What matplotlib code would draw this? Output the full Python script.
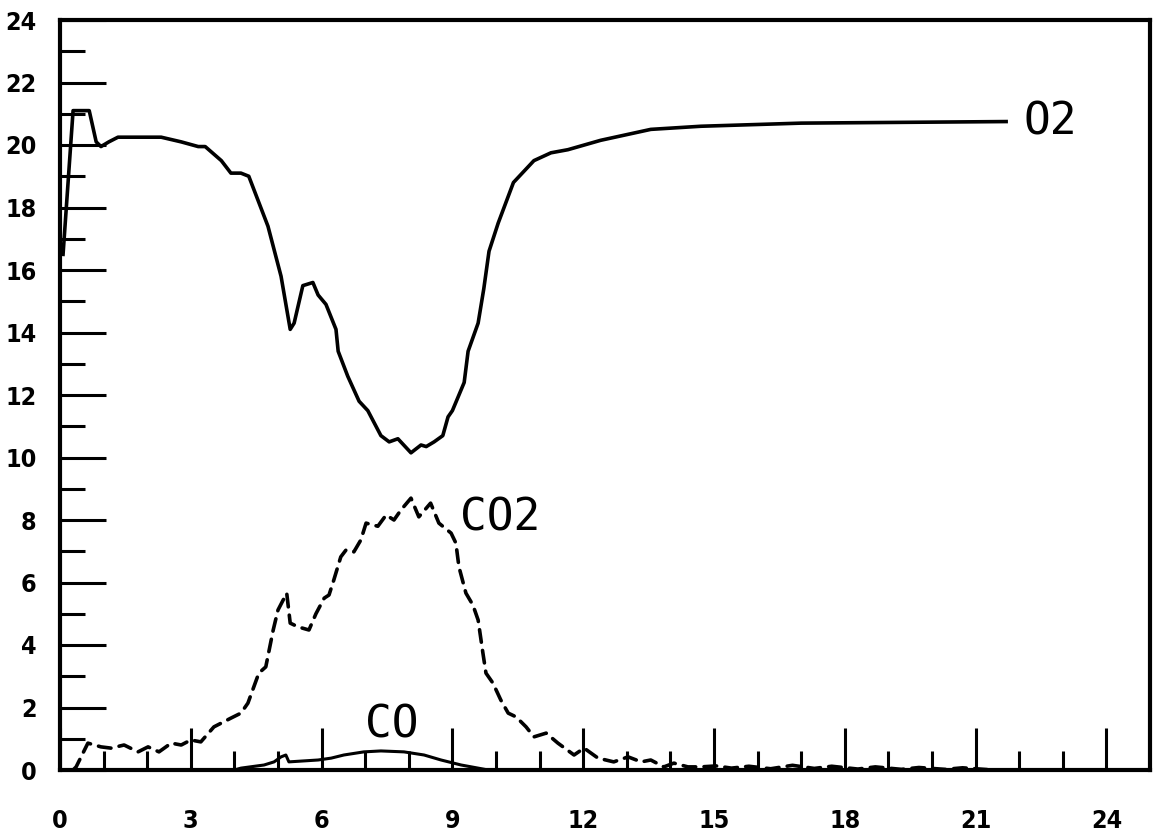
import matplotlib
matplotlib.use('Agg')
import matplotlib.pyplot as plt

# gas concentrations (%) against time
o2_t = [0.07, 0.3, 0.67, 0.83, 0.94, 1.12, 1.33, 2.32, 2.78, 3.17, 3.33, 3.7, 3.92,
        4.15, 4.33, 4.77, 5.07, 5.28, 5.37, 5.57, 5.8, 5.92, 6.1, 6.33, 6.38, 6.6,
        6.86, 7.06, 7.36, 7.55, 7.75, 8.05, 8.28, 8.4, 8.58, 8.78, 8.9, 9.0, 9.27,
        9.36, 9.59, 9.72, 9.84, 10.05, 10.4, 10.87, 11.26, 11.65, 12.4, 13.55,
        14.7, 17.0, 21.7]
o2 = [16.5, 21.1, 21.1, 20.1, 19.95, 20.1, 20.25, 20.25, 20.1, 19.95, 19.95, 19.5,
      19.1, 19.1, 19.0, 17.4, 15.8, 14.1, 14.3, 15.5, 15.6, 15.2, 14.9, 14.1, 13.4,
      12.6, 11.8, 11.5, 10.7, 10.5, 10.6, 10.15, 10.4, 10.35, 10.5, 10.7, 11.3,
      11.5, 12.4, 13.4, 14.3, 15.4, 16.6, 17.5, 18.8, 19.5, 19.75, 19.85, 20.15,
      20.5, 20.6, 20.7, 20.75]

co2_t = [0.3, 0.37, 0.64, 0.94, 1.17, 1.47, 1.79, 2.02, 2.27, 2.55, 2.78, 3.0, 3.23,
         3.53, 3.92, 4.15, 4.31, 4.56, 4.72, 4.89, 5.0, 5.2, 5.28, 5.46, 5.71, 5.87,
         6.06, 6.17, 6.28, 6.44, 6.56, 6.74, 6.9, 7.02, 7.29, 7.48, 7.66, 7.82, 8.05,
         8.23, 8.5, 8.69, 8.97, 9.08, 9.15, 9.31, 9.47, 9.59, 9.7, 9.77, 9.93, 10.11,
         10.28, 10.46, 10.69, 10.87, 11.15, 11.42, 11.79, 12.02, 12.34, 12.7, 13.03,
         13.33, 13.55, 13.85, 14.08, 14.4, 14.7, 15.05, 15.4, 15.8, 16.3, 16.8, 17.3,
         17.7, 18.3, 18.7, 19.3, 19.7, 20.3, 20.7, 21.4]
co2 = [0.0, 0.1, 0.86, 0.74, 0.7, 0.8, 0.58, 0.74, 0.58, 0.86, 0.8, 0.96, 0.9, 1.38,
       1.66, 1.82, 2.14, 3.1, 3.3, 4.48, 5.12, 5.66, 4.7, 4.58, 4.48, 5.0, 5.5, 5.6,
       6.08, 6.82, 7.04, 6.98, 7.36, 7.9, 7.8, 8.16, 8.0, 8.32, 8.7, 8.1, 8.54, 7.9,
       7.58, 7.26, 6.5, 5.66, 5.28, 4.8, 3.74, 3.1, 2.78, 2.24, 1.82, 1.7, 1.38, 1.06,
       1.18, 0.86, 0.48, 0.7, 0.38, 0.26, 0.42, 0.26, 0.32, 0.1, 0.22, 0.1, 0.1, 0.13,
       0.06, 0.12, 0.04, 0.15, 0.05, 0.12, 0.03, 0.1, 0.02, 0.08, 0.02, 0.07, 0.0]

co_t = [4.0, 4.15, 4.68, 4.91, 5.07, 5.18, 5.25, 5.92, 6.22, 6.51, 6.97, 7.36, 7.89,
        8.35, 8.74, 9.2, 9.59, 9.82]
co = [0.0, 0.06, 0.16, 0.26, 0.42, 0.48, 0.26, 0.32, 0.38, 0.48, 0.58, 0.61, 0.58,
      0.48, 0.32, 0.16, 0.06, 0.0]

x_major = list(range(0, 25, 3))
x_minor = [v for v in range(1, 25) if v % 3]
y_major = list(range(0, 25, 2))
y_minor = list(range(1, 24, 2))

fig = plt.figure(figsize=(11.54, 8.33), dpi=100)
ax = fig.add_axes([60 / 1154, 1 - 770 / 833, 1090 / 1154, 750 / 833])

ax.plot(o2_t, o2, color='black', lw=2.6, solid_joinstyle='round')
ax.plot(co2_t, co2, color='black', lw=2.6, dashes=(3.5, 2.3), dash_capstyle='round')
ax.plot(co_t, co, color='black', lw=2.2, solid_joinstyle='round')

# curve names in a plotter-ish mono font
lab = dict(fontsize=32, family='DejaVu Sans Mono', va='center', ha='left')
ax.text(22.1, 20.75, 'O2', **lab)
ax.text(9.18, 8.05, 'CO2', **lab)
ax.text(7.0, 1.45, 'CO', **lab)

ax.set_xlim(0, 25)
ax.set_ylim(0, 24)
ax.set_xticks(x_major)
ax.set_xticks(x_minor, minor=True)
ax.set_yticks(y_major)
ax.set_yticks(y_minor, minor=True)
ax.set_xticklabels([str(v) for v in x_major])
ax.set_yticklabels([str(v) for v in y_major])

ax.tick_params(axis='x', which='major', direction='in', length=30, width=2.2, pad=28)
ax.tick_params(axis='x', which='minor', direction='in', length=14, width=2.2)
ax.tick_params(axis='y', which='major', direction='in', length=33, width=2.2, pad=17)
ax.tick_params(axis='y', which='minor', direction='in', length=18, width=2.2)
for t in ax.get_xticklabels() + ax.get_yticklabels():
    t.set_fontsize(18)
    t.set_fontweight('heavy')
    t.set_fontstretch('condensed')

for s in ax.spines.values():
    s.set_linewidth(3)

fig.savefig('out.png', dpi=100)
